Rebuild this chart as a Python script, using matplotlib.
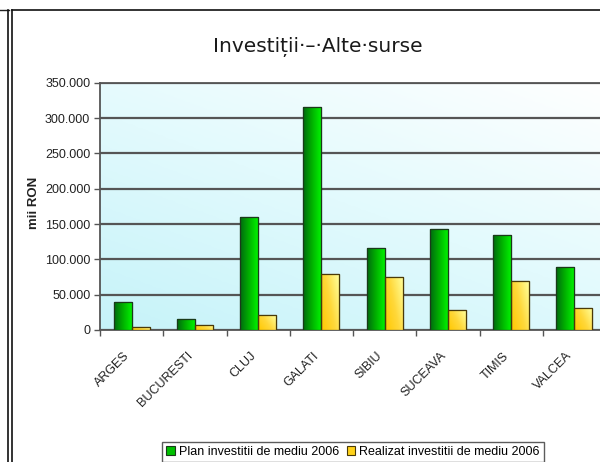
import matplotlib
matplotlib.use("Agg")
import matplotlib.pyplot as plt
import numpy as np
from matplotlib.colors import LinearSegmentedColormap
from matplotlib.lines import Line2D
from matplotlib.patches import Rectangle
from matplotlib.ticker import FuncFormatter

# data (mii RON)
judete = ["ARGES", "BUCURESTI", "CLUJ", "GALATI", "SIBIU", "SUCEAVA", "TIMIS", "VALCEA"]
plan_2006 = [40000, 16000, 160000, 316000, 116500, 142500, 134000, 89000]
realizat_2006 = [4000, 7500, 21000, 79000, 75500, 28300, 69000, 31600]
yticks = [0, 50000, 100000, 150000, 200000, 250000, 300000, 350000]

plt.rcParams['font.family'] = ['Liberation Sans', 'DejaVu Sans']

fig = plt.figure(figsize=(6, 4.62), dpi=100)

# axes goes a little past the right edge, like the cropped original
ax = fig.add_axes([100/600, 132/462, 506/600, 247.3/462])

# plot area background: light cyan gradient towards white at top right
gx, gy = np.meshgrid(np.linspace(0, 1, 200), np.linspace(0, 1, 200))
g = (gx*0.6 + gy*0.8)/1.4
bg = LinearSegmentedColormap.from_list("bg", ["#c6f3f9", "#e2fafd", "#ffffff"])
ax.imshow(g, cmap=bg, extent=[0, 1, 0, 1], origin="lower", transform=ax.transAxes,
          aspect="auto", zorder=0)

x = np.arange(len(judete))
w = 0.284
b1 = ax.bar(x - w/2, plan_2006, w, color="#00c000", edgecolor="#1a3a1a", linewidth=0.8,
            zorder=3, label="Plan investitii de mediu 2006")
b2 = ax.bar(x + w/2, realizat_2006, w, color="#ffd21a", edgecolor="#4a3a08", linewidth=0.8,
            zorder=3, label="Realizat investitii de mediu 2006")

# gradient fill inside each bar
green = LinearSegmentedColormap.from_list("gr", ["#006a10", "#00b000", "#00f000"])
yellow = LinearSegmentedColormap.from_list("ye", ["#ffc800", "#ffd83a", "#ffff9a"])
hx = np.linspace(0, 1, 50).reshape(1, -1)
for bars, cm in [(b1, green), (b2, yellow)]:
    for r in bars:
        x0, y0 = r.get_x(), r.get_y()
        x1, y1 = x0 + r.get_width(), y0 + r.get_height()
        if cm is yellow:
            grid = (np.linspace(0, 1, 50).reshape(1, -1) + np.linspace(1, 0, 50).reshape(-1, 1)*0.6)/1.6
        else:
            grid = hx
        im = ax.imshow(grid, cmap=cm, extent=[x0, x1, y0, y1], aspect="auto",
                       origin="upper", zorder=3.5, vmin=0, vmax=1)
        im.set_clip_path(r)
        ax.add_patch(Rectangle((x0, y0), r.get_width(), r.get_height(), fill=False,
                               edgecolor=r.get_edgecolor(), linewidth=0.9, zorder=4))

ax.set_xlim(-0.5, len(judete) - 0.5)
ax.set_ylim(0, 350000)
ax.set_yticks(yticks)
ax.yaxis.set_major_formatter(FuncFormatter(lambda v, p: "0" if v == 0 else f"{int(v):,}".replace(",", ".")))
ax.grid(axis="y", color="#555555", linewidth=1.6, zorder=1)
ax.set_axisbelow(True)

ax.set_xticks(np.arange(len(judete) + 1) - 0.5)
ax.set_xticklabels([])
ax.tick_params(axis="x", length=4, width=1, color="#555555")
ax.tick_params(axis="y", length=4, width=1, color="#555555", labelsize=9, labelcolor="#222222", pad=3)
for i, name in enumerate(judete):
    ax.text(i - 0.13, -28000, name, rotation=45, ha="right", va="top",
            rotation_mode="anchor", fontsize=9, color="#222222")

for s in ["right"]:
    ax.spines[s].set_visible(False)
for s in ["left", "bottom", "top"]:
    ax.spines[s].set_color("#555555")
    ax.spines[s].set_linewidth(1.3)

fig.text(34/600, 1 - 203/462, "mii RON", rotation=90, ha="center", va="center",
         fontsize=9.5, fontweight="bold", color="#222222")
fig.text(318/600, 1 - 47/462, "Investiții·–·Alte·surse", ha="center", va="center",
         fontsize=14.5, color="#1a1a1a", family=["DejaVu Sans"])

leg = fig.legend(handles=[b1, b2], loc="center", bbox_to_anchor=(353/600, 1 - 452/462),
                 ncol=2, fontsize=9, frameon=True, fancybox=False, handlelength=0.7,
                 handleheight=0.7, handletextpad=0.3, columnspacing=0.6,
                 borderpad=0.35, edgecolor="#333333")
leg.get_frame().set_linewidth(1.0)

# outer frame lines of the document
fig.add_artist(Line2D([0, 8.5/600], [1 - 9.5/462]*2, color="#222222", lw=1.0, transform=fig.transFigure))
fig.add_artist(Line2D([8.3/600]*2, [0, 1 - 9.5/462], color="#111111", lw=1.2, transform=fig.transFigure))
fig.add_artist(Line2D([11.8/600]*2, [0, 1 - 10/462], color="#111111", lw=1.2, transform=fig.transFigure))
fig.add_artist(Line2D([11.8/600, 1], [1 - 10/462]*2, color="#111111", lw=1.2, transform=fig.transFigure))

fig.savefig("out.png", dpi=100)
